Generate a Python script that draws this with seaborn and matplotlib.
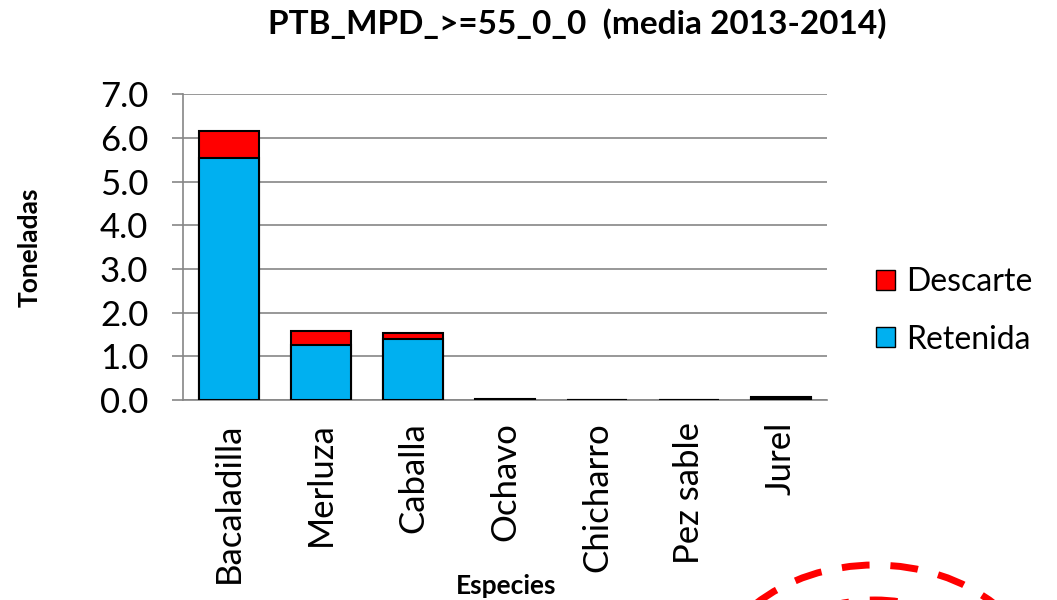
import matplotlib
matplotlib.use("Agg")
import matplotlib.pyplot as plt
import seaborn as sns
import pandas as pd
from matplotlib.patches import Patch, Ellipse

especies = ["Bacaladilla", "Merluza", "Caballa", "Ochavo", "Chicharro", "Pez sable", "Jurel"]
retenida = [5.54, 1.25, 1.39, 0.01, 0.005, 0.003, 0.04]
descarte = [0.63, 0.32, 0.15, 0.01, 0.005, 0.002, 0.02]
yticks = [0.0, 1.0, 2.0, 3.0, 4.0, 5.0, 6.0, 7.0]

sns.set_theme(style="white")
plt.rcParams["font.family"] = ["Lato", "DejaVu Sans"]
plt.rcParams["text.color"] = "black"
plt.rcParams["axes.labelcolor"] = "black"
plt.rcParams["xtick.labelcolor"] = "black"
plt.rcParams["ytick.labelcolor"] = "black"

df = pd.DataFrame({"Especie": especies, "Retenida": retenida, "Descarte": descarte})
df["Total"] = df["Retenida"] + df["Descarte"]

fig = plt.figure(figsize=(10.57, 6.0), dpi=100)
ax = fig.add_axes([183/1057, 1-400/600, (827-183)/1057, (400-94.3)/600])

sns.barplot(data=df, x="Especie", y="Total", color="#FF0000", edgecolor="black",
            linewidth=1.5, width=0.66, ax=ax, saturation=1, zorder=3)
sns.barplot(data=df, x="Especie", y="Retenida", color="#00B0F0", edgecolor="black",
            linewidth=1.5, width=0.66, ax=ax, saturation=1, zorder=3)

ax.set_ylim(0, 7.0)
ax.set_xlim(-0.5, len(especies) - 0.5)
ax.set_yticks(yticks)
ax.set_yticklabels([f"{v:.1f}" for v in yticks], fontsize=25, color="black")
ax.set_xticks(range(len(especies)))
ax.set_xticklabels(especies, rotation=90, fontsize=25, color="black")
ax.set_xticks([i - 0.5 for i in range(len(especies) + 1)], minor=True)
ax.tick_params(axis="x", which="major", length=0, pad=16)
ax.tick_params(axis="x", which="minor", length=8.5, width=1.2, color="#868686", direction="out")
ax.tick_params(axis="y", which="major", length=8, width=1.2, color="#868686", direction="out", pad=17, left=True)
ax.yaxis.grid(True, color="#868686", linewidth=1.2, zorder=0)
ax.set_axisbelow(True)
for s in ["top", "right"]:
    ax.spines[s].set_visible(False)
for s in ["left", "bottom"]:
    ax.spines[s].set_color("#868686")
    ax.spines[s].set_linewidth(1.2)

ax.set_ylabel("Toneladas", fontsize=19, fontweight="bold", color="black")
ax.set_xlabel("Especies", fontsize=19, fontweight="bold", color="black")
ax.xaxis.set_label_coords((506-183)/644, -0.57)
ax.yaxis.set_label_coords(-0.22, (400-247)/305.7)

fig.text(577/1057, 1-24/600, "PTB_MPD_>=55_0_0  (media 2013-2014)", ha="center", va="center",
         fontsize=24, fontweight="bold", color="black")

handles = [Patch(facecolor="#FF0000", edgecolor="black", label="Descarte"),
           Patch(facecolor="#00B0F0", edgecolor="black", label="Retenida")]
fig.legend(handles=handles, loc="center left", bbox_to_anchor=(876/1057, 1-311/600),
           frameon=False, fontsize=23, handlelength=0.6, handleheight=0.6,
           handletextpad=0.35, labelspacing=0.85, borderaxespad=0, borderpad=0,
           labelcolor="black")

# decorative red dashed ellipses at bottom right
for (w, h, cy) in [(340, 270, 700), (260, 200, 700)]:
    e = Ellipse((875/1057, 1-cy/600), w/1057, h/600, transform=fig.transFigure,
                fill=False, edgecolor="#FF0000", linewidth=5, linestyle=(0, (4, 3)), clip_on=False)
    fig.add_artist(e)

fig.savefig("out.png", dpi=100)
